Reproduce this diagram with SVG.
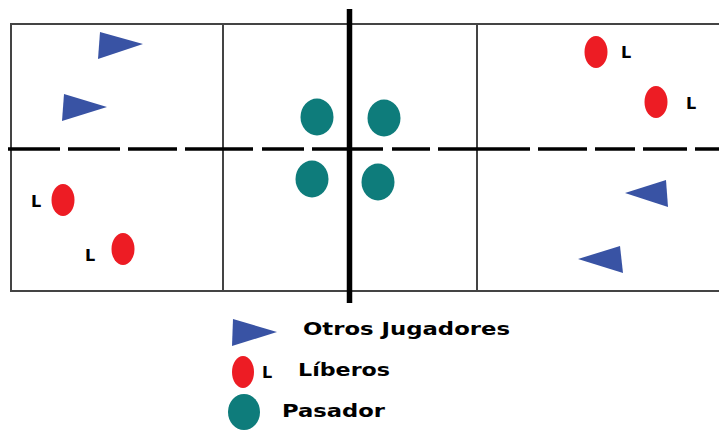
<svg xmlns="http://www.w3.org/2000/svg" width="719" height="430" viewBox="0 0 719 430">
<style>
.court{fill:none;stroke:#444;stroke-width:2}
.dash{stroke:#000;stroke-width:3.5}
.net{stroke:#000;stroke-width:5.5}
.other{fill:#3953A4}
.libero{fill:#ED1C24}
.setter{fill:#0E7C7B}
.lbl{font-family:"DejaVu Sans",Verdana,sans-serif;font-weight:bold;font-size:16px;fill:#000}
.leg{font-family:"DejaVu Sans",Verdana,sans-serif;font-weight:bold;font-size:17.5px;fill:#000}
</style>
<rect width="719" height="430" fill="#fff"/>
<g id="court">
<line class="court" x1="11" y1="24" x2="719" y2="24"/>
<line class="court" x1="11" y1="291" x2="719" y2="291"/>
<line class="court" x1="11" y1="23" x2="11" y2="292"/>
<line class="court" x1="223" y1="24" x2="223" y2="291"/>
<line class="court" x1="477" y1="24" x2="477" y2="291"/>
<g id="midline">
<line class="dash" x1="8" y1="149" x2="60" y2="149"/>
<line class="dash" x1="68" y1="149" x2="120" y2="149"/>
<line class="dash" x1="128" y1="149" x2="177" y2="149"/>
<line class="dash" x1="185" y1="149" x2="253" y2="149"/>
<line class="dash" x1="262" y1="149" x2="304" y2="149"/>
<line class="dash" x1="312" y1="149" x2="383" y2="149"/>
<line class="dash" x1="392" y1="149" x2="430" y2="149"/>
<line class="dash" x1="438" y1="149" x2="530" y2="149"/>
<line class="dash" x1="538" y1="149" x2="587" y2="149"/>
<line class="dash" x1="595" y1="149" x2="635" y2="149"/>
<line class="dash" x1="643" y1="149" x2="687" y2="149"/>
<line class="dash" x1="695" y1="149" x2="719" y2="149"/>
</g>
<line class="net" x1="349.5" y1="9" x2="349.5" y2="303"/>
</g>
<g id="other1"><polygon class="other" points="100,32 143,44 98,59"/></g>
<g id="other2"><polygon class="other" points="64,94 107,107 62,121"/></g>
<g id="other3"><polygon class="other" points="666,180 625,193 668,207"/></g>
<g id="other4"><polygon class="other" points="620,246 578,259 623,273"/></g>
<g id="libero1"><ellipse class="libero" cx="63" cy="200" rx="11.5" ry="16"/><text class="lbl" x="31" y="207">L</text></g>
<g id="libero2"><ellipse class="libero" cx="123" cy="249" rx="11.5" ry="16"/><text class="lbl" x="85" y="261">L</text></g>
<g id="libero3"><ellipse class="libero" cx="596" cy="52" rx="11.5" ry="16"/><text class="lbl" x="621" y="58">L</text></g>
<g id="libero4"><ellipse class="libero" cx="656" cy="102" rx="11.5" ry="16"/><text class="lbl" x="686" y="109">L</text></g>
<g id="setter1"><ellipse class="setter" cx="317" cy="117" rx="16.5" ry="18.5"/></g>
<g id="setter2"><ellipse class="setter" cx="384" cy="118" rx="16.5" ry="18.5"/></g>
<g id="setter3"><ellipse class="setter" cx="312" cy="179" rx="16.5" ry="18.5"/></g>
<g id="setter4"><ellipse class="setter" cx="378" cy="182" rx="16.5" ry="18.5"/></g>
<g id="legend">
<polygon class="other" points="233,319 277,332 232,346"/>
<text class="leg" x="303" y="335" textLength="207" lengthAdjust="spacingAndGlyphs">Otros Jugadores</text>
<ellipse class="libero" cx="243" cy="372" rx="11" ry="16"/>
<text class="lbl" x="262" y="378">L</text>
<text class="leg" x="298" y="376" textLength="92" lengthAdjust="spacingAndGlyphs">Líberos</text>
<ellipse class="setter" cx="244" cy="412" rx="16" ry="18"/>
<text class="leg" x="282" y="417" textLength="103" lengthAdjust="spacingAndGlyphs">Pasador</text>
</g>
</svg>
